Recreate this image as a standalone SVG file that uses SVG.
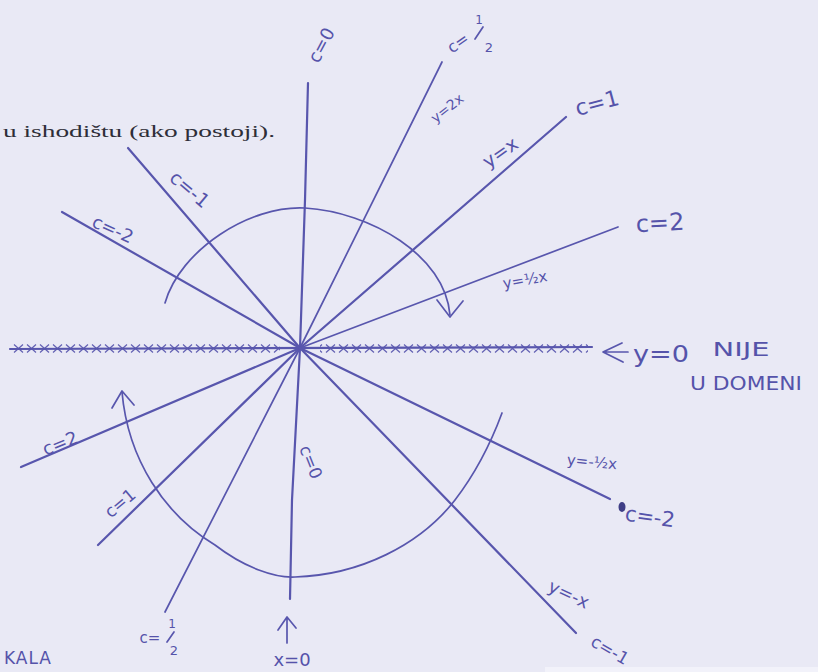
<svg xmlns="http://www.w3.org/2000/svg" width="818" height="672" viewBox="0 0 818 672">
  <style>
    .ink { stroke: #5856ad; fill: none; stroke-width: 2.2; stroke-linecap: round; stroke-linejoin: round; }
    .thin { stroke: #5856ad; fill: none; stroke-width: 1.7; stroke-linecap: round; stroke-linejoin: round; }
    .hw { font-family: "DejaVu Sans", "Liberation Sans", sans-serif; fill: #5553aa; text-anchor: middle; dominant-baseline: central; }
    .print { font-family: "Liberation Serif", "DejaVu Serif", serif; fill: #2e2e38; font-size: 17px; }
  </style>
  <defs>
    <pattern id="xs" x="12" y="343" width="13" height="11" patternUnits="userSpaceOnUse">
      <path d="M2,1.5 L11,9.5 M11,1.5 L2,9.5" stroke="#6462b4" stroke-width="1.3" fill="none"/>
    </pattern>
  </defs>
  <rect width="818" height="672" fill="#e9e9f5"/>
  <rect x="545" y="667" width="273" height="5" fill="#f2f2fa"/>

  <text class="print" x="3" y="137" textLength="272" lengthAdjust="spacingAndGlyphs">u ishodištu (ako postoji).</text>

  <g id="connectors">
    <rect x="12" y="343" width="268" height="11" fill="url(#xs)"/>
    <rect x="320" y="343" width="268" height="11" fill="url(#xs)"/>
    <path class="ink" d="M10,349 L592,347"/>
    <path class="ink" d="M300,348 L305,200 L308,83"/>
    <path class="ink" d="M300,348 L128,148"/>
    <path class="ink" d="M300,348 L62,212"/>
    <path class="thin" d="M300,348 L442,62"/>
    <path class="ink" d="M300,348 L566,117"/>
    <path class="thin" d="M300,348 L618,227"/>
    <path class="ink" d="M300,348 L21,467"/>
    <path class="ink" d="M300,348 L98,545"/>
    <path class="thin" d="M300,348 L165,612"/>
    <path class="ink" d="M300,348 L292,500 L290,599"/>
    <path class="ink" d="M300,348 L610,499"/>
    <path class="ink" d="M300,348 L576,633"/>
    <path class="thin" d="M165,303 C180,250 250,205 305,208 C370,212 445,255 450,315"/>
    <path class="thin" d="M437,300 L450,317 L463,301"/>
    <path class="thin" d="M122,392 C128,460 165,515 215,545 C245,568 275,578 295,577 C360,575 420,545 455,500 C478,470 492,440 502,413"/>
    <path class="thin" d="M112,408 L122,391 L134,405"/>
    <path class="thin" d="M287,643 L287,617 M278,630 L287,617 L296,628"/>
    <path class="thin" d="M622,343 L603,352 L623,362 M604,352 L628,352"/>
  </g>

  <g id="labels">
    <text class="hw" font-size="18" transform="translate(321,45) rotate(-62)">c=0</text>
    <text class="hw" font-size="19" transform="translate(190,189) rotate(40)">c=-1</text>
    <text class="hw" font-size="18" transform="translate(113,229) rotate(24)">c=-2</text>

    <g id="c-half-top">
      <text class="hw" font-size="16" transform="translate(458,43) rotate(-35)">c=</text>
      <text class="hw" font-size="12" x="479" y="20">1</text>
      <path class="thin" d="M483,27 L475,39" stroke-width="1.3"/>
      <text class="hw" font-size="13" x="489" y="47">2</text>
    </g>
    <text class="hw" font-size="14" transform="translate(447,108) rotate(-38)">y=2x</text>
    <text class="hw" font-size="22" transform="translate(597,103) rotate(-15)">c=1</text>
    <text class="hw" font-size="19" transform="translate(500,152) rotate(-35)">y=x</text>
    <text class="hw" font-size="24" transform="translate(660,223) rotate(-3)">c=2</text>
    <text class="hw" font-size="15" transform="translate(525,280) rotate(-10)">y=½x</text>

    <text class="hw" font-size="23" x="661" y="354" textLength="56" lengthAdjust="spacingAndGlyphs">y=0</text>
    <text class="hw" font-size="20" x="741" y="349" textLength="57" lengthAdjust="spacingAndGlyphs">NIJE</text>
    <text class="hw" font-size="19" x="746" y="383" textLength="112" lengthAdjust="spacingAndGlyphs">U DOMENI</text>

    <text class="hw" font-size="18" transform="translate(60,443) rotate(-22)">c=2</text>
    <text class="hw" font-size="17" transform="translate(120,503) rotate(-40)">c=1</text>
    <g id="c-half-bottom">
      <text class="hw" font-size="15" x="150" y="638">c=</text>
      <text class="hw" font-size="12" x="172" y="624">1</text>
      <path class="thin" d="M174,632 L167,642" stroke-width="1.3"/>
      <text class="hw" font-size="13" x="174" y="650">2</text>
    </g>
    <text class="hw" font-size="17" transform="translate(311,462) rotate(68)">c=0</text>
    <text class="hw" font-size="18" x="292" y="659">x=0</text>
    <text class="hw" font-size="17" x="28" y="658" letter-spacing="1">KALA</text>

    <text class="hw" font-size="15" transform="translate(592,462) rotate(5)">y=-½x</text>
    <ellipse cx="622" cy="507" rx="3.5" ry="5" fill="#3f3e86"/>
    <text class="hw" font-size="21" transform="translate(650,517) rotate(8)">c=-2</text>
    <text class="hw" font-size="18" transform="translate(569,594) rotate(25)">y=-x</text>
    <text class="hw" font-size="17" transform="translate(610,650) rotate(30)">c=-1</text>
  </g>
</svg>
